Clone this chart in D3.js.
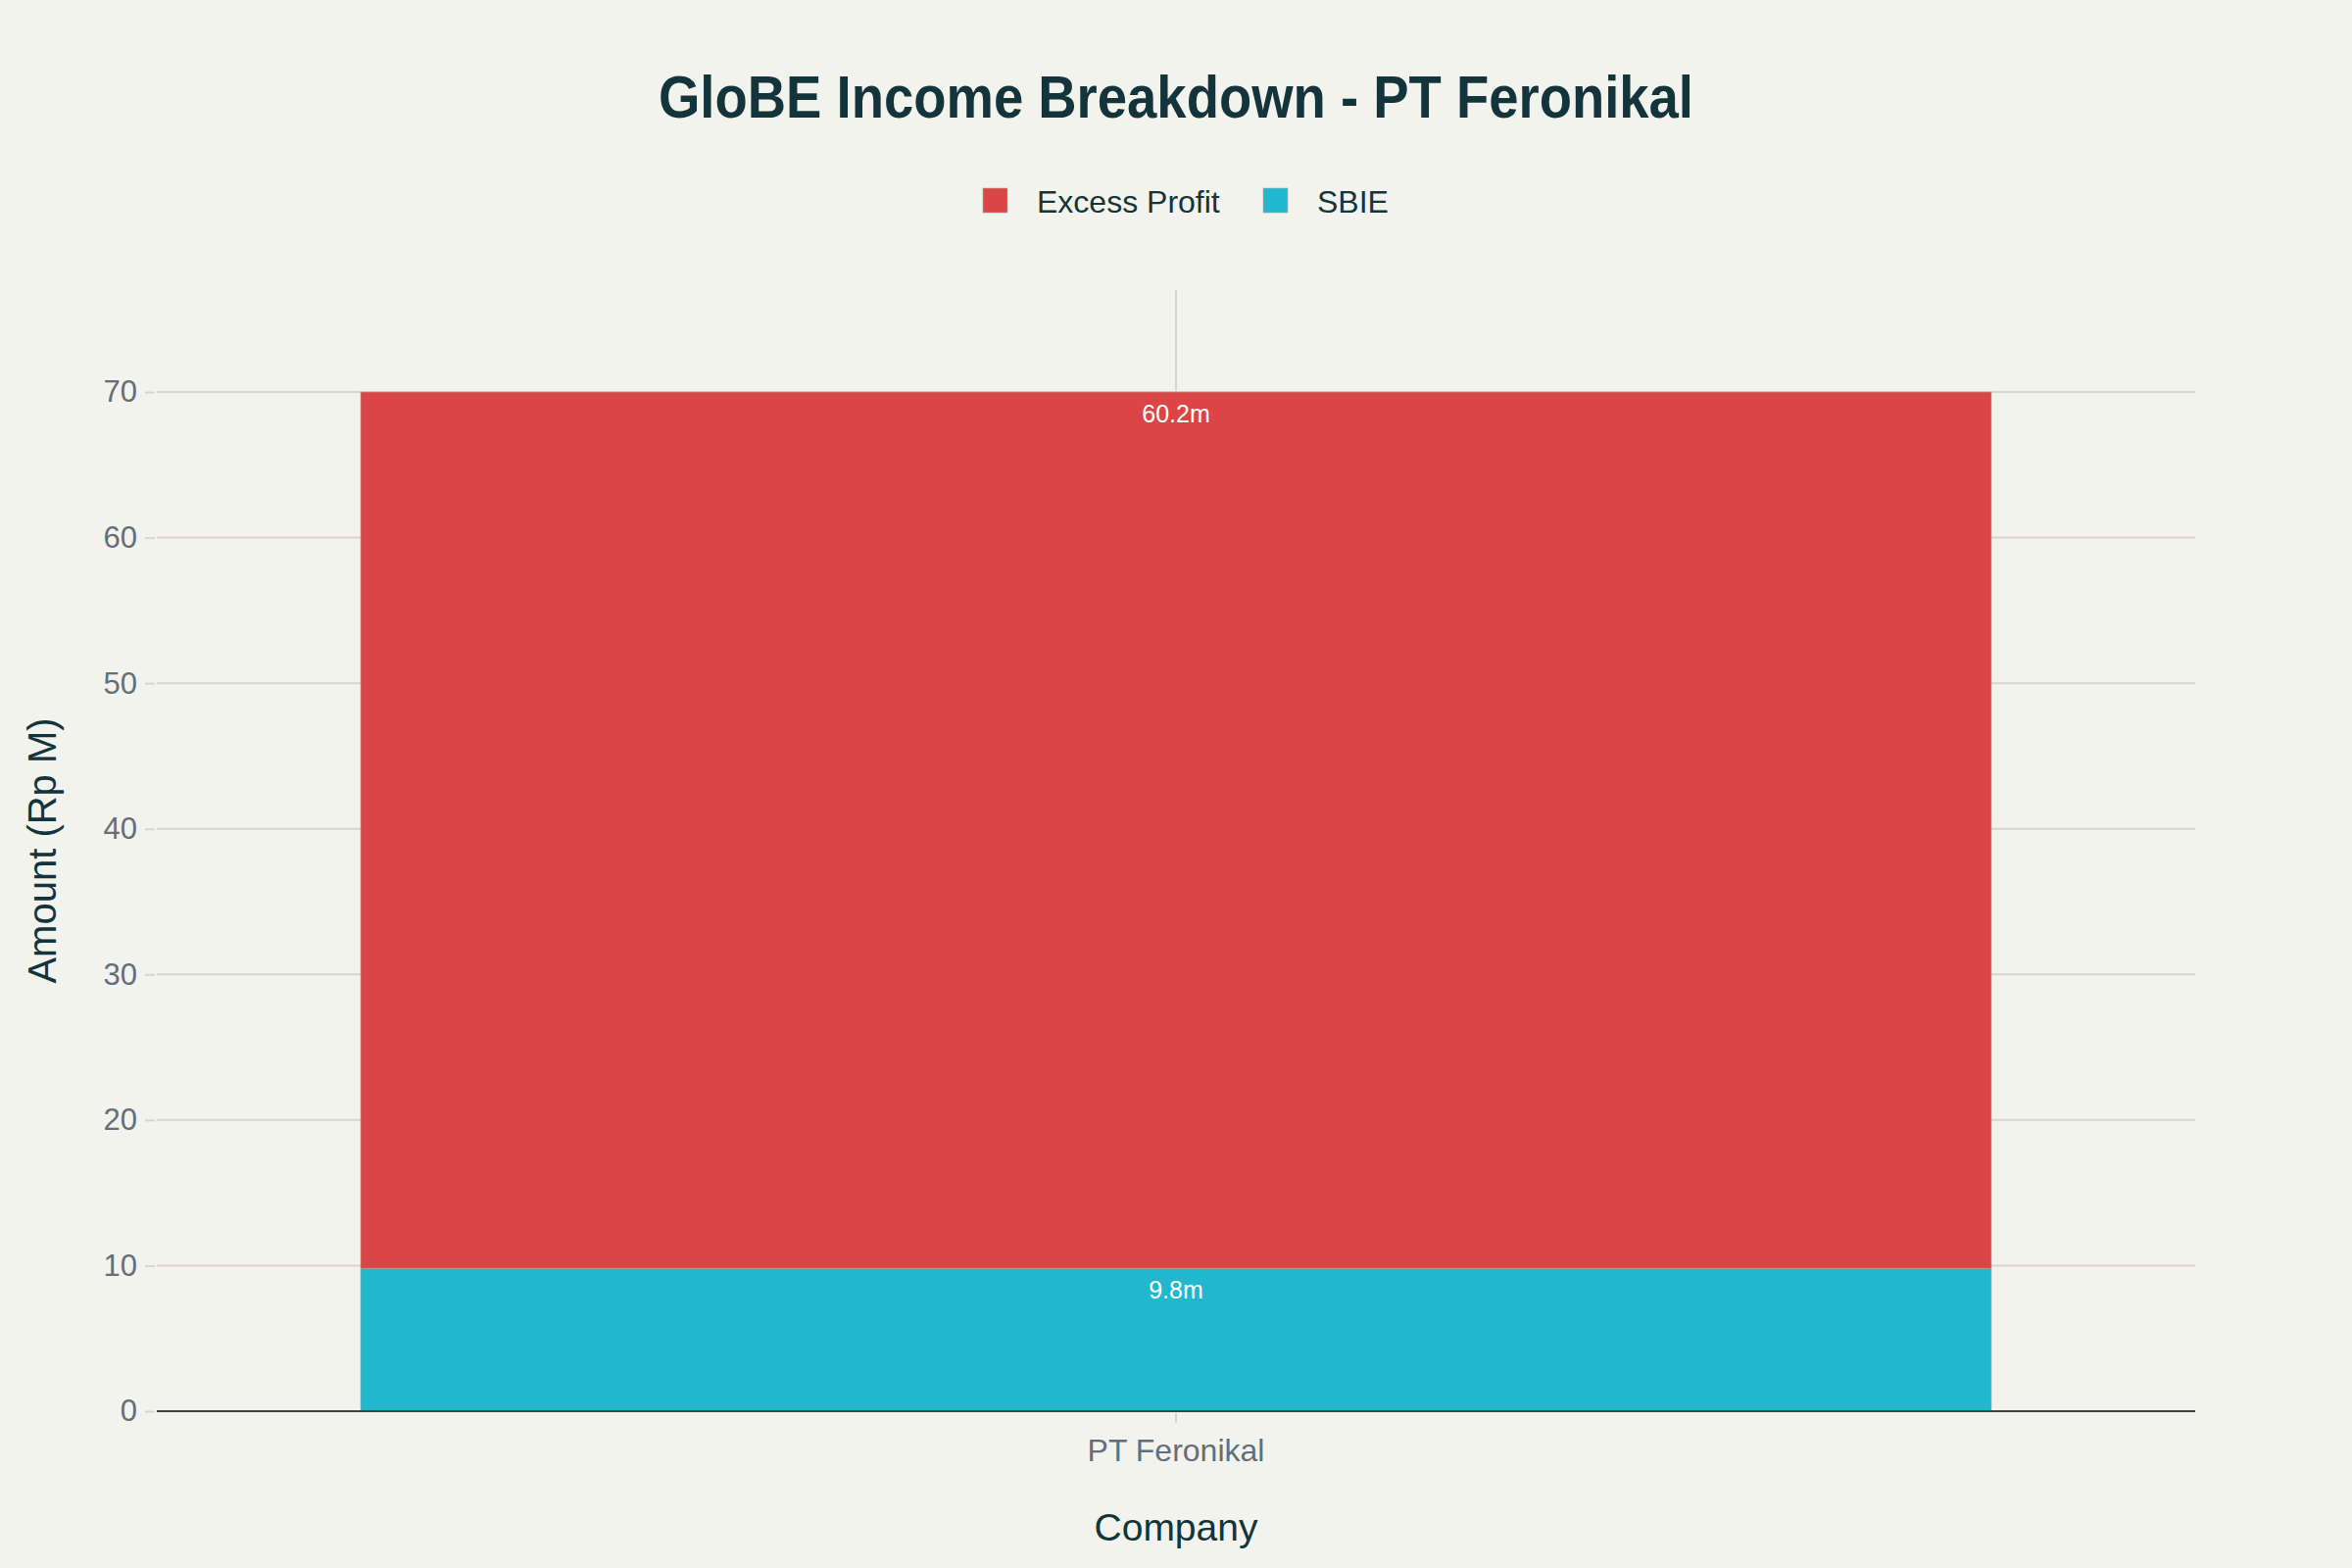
<!DOCTYPE html>
<html>
<head>
<meta charset="utf-8">
<script src="https://cdn.jsdelivr.net/npm/d3@7"></script>
<style>
    html, body { margin: 0; padding: 0; background: #f3f3ee; }
    svg { display: block; }
</style>
</head>
<body>
<div id="chart"></div>
<script>
// ─── Data ───────────────────────────────────────────────
const companies = ['PT Feronikal'];
const seriesNames = ['SBIE', 'Excess Profit'];      // stack order, bottom → top
const sbieValues = [9.8];
const excessValues = [60.2];
const dataLabels = { 'SBIE': ['9.8m'], 'Excess Profit': ['60.2m'] };
const legendOrder = ['Excess Profit', 'SBIE'];
const yTicks = [0, 10, 20, 30, 40, 50, 60, 70];

const colors = { 'Excess Profit': '#db4545', 'SBIE': '#21b8cd' };

// ─── Layout ─────────────────────────────────────────────
const W = 2400, H = 1600;
const plot = { left: 160, right: 2240, top: 296, bottom: 1440 };
const ink = '#13343b';
const grey = '#646e76';
const gridCol = '#d9d4ce';

const svg = d3.select('#chart').append('svg')
    .attr('width', W).attr('height', H)
    .style('font-family', '"Liberation Sans", Arial, sans-serif');

svg.append('rect').attr('width', W).attr('height', H).attr('fill', '#f3f3ee');

const x = d3.scaleBand()
    .domain(companies)
    .range([plot.left, plot.right])
    .paddingInner(0.2)
    .paddingOuter(0.1);

const y = d3.scaleLinear()
    .domain([0, 77])
    .range([plot.bottom, plot.top]);

// stacked rows built from the series arrays
const rows = companies.map((c, i) => ({ company: c, 'SBIE': sbieValues[i], 'Excess Profit': excessValues[i] }));
const stacked = d3.stack().keys(seriesNames)(rows);

// ─── Grid ───────────────────────────────────────────────
svg.append('g').selectAll('line.hgrid')
    .data(yTicks.filter(t => t !== 0))
    .join('line')
    .attr('x1', plot.left).attr('x2', plot.right)
    .attr('y1', d => y(d)).attr('y2', d => y(d))
    .attr('stroke', gridCol).attr('stroke-width', 2);

svg.append('g').selectAll('line.vgrid')
    .data(companies)
    .join('line')
    .attr('x1', d => x(d) + x.bandwidth() / 2).attr('x2', d => x(d) + x.bandwidth() / 2)
    .attr('y1', plot.top).attr('y2', plot.bottom)
    .attr('stroke', gridCol).attr('stroke-width', 2);

// ─── Bars ───────────────────────────────────────────────
const layers = svg.append('g').selectAll('g.layer')
    .data(stacked)
    .join('g')
    .attr('fill', d => colors[d.key]);

layers.selectAll('rect')
    .data(d => d.map(v => ({ key: d.key, v })))
    .join('rect')
    .attr('x', d => x(d.v.data.company))
    .attr('width', x.bandwidth())
    .attr('y', d => y(d.v[1]))
    .attr('height', d => y(d.v[0]) - y(d.v[1]))
    .attr('stroke', 'rgba(180,170,160,0.6)')
    .attr('stroke-width', 1);

// labels inside the top of each segment
layers.selectAll('text')
    .data(d => d.map((v, i) => ({ key: d.key, v, label: dataLabels[d.key][i] })))
    .join('text')
    .attr('x', d => x(d.v.data.company) + x.bandwidth() / 2)
    .attr('y', d => y(d.v[1]) + 31)
    .attr('text-anchor', 'middle')
    .attr('font-size', 25)
    .attr('fill', '#ffffff')
    .text(d => d.label);

// zero line
svg.append('line')
    .attr('x1', plot.left).attr('x2', plot.right)
    .attr('y1', y(0)).attr('y2', y(0))
    .attr('stroke', '#3b4042').attr('stroke-width', 2);

// ─── Axes ───────────────────────────────────────────────
const yAxis = svg.append('g')
    .attr('transform', `translate(${plot.left - 2},0)`)
    .call(d3.axisLeft(y).tickValues(yTicks).tickSize(10).tickPadding(8));
yAxis.select('.domain').remove();
yAxis.selectAll('.tick line').attr('stroke', gridCol).attr('stroke-width', 2);
yAxis.selectAll('.tick text')
    .attr('font-size', 31).attr('fill', grey)
    .attr('font-family', '"Liberation Sans", Arial, sans-serif');

const xAxis = svg.append('g')
    .attr('transform', `translate(0,${plot.bottom + 2})`)
    .call(d3.axisBottom(x).tickSize(10).tickPadding(16));
xAxis.select('.domain').remove();
xAxis.selectAll('.tick line').attr('stroke', gridCol).attr('stroke-width', 2);
xAxis.selectAll('.tick text')
    .attr('font-size', 32).attr('fill', grey)
    .attr('font-family', '"Liberation Sans", Arial, sans-serif');

// axis titles
svg.append('text')
    .attr('x', (plot.left + plot.right) / 2).attr('y', 1572)
    .attr('text-anchor', 'middle')
    .attr('font-size', 39).attr('fill', ink)
    .text('Company');

svg.append('text')
    .attr('transform', 'translate(57,868) rotate(-90)')
    .attr('text-anchor', 'middle')
    .attr('font-size', 40).attr('fill', ink)
    .text('Amount (Rp M)');

// ─── Title ──────────────────────────────────────────────
// the original face is a narrow grotesk; squeeze Liberation Sans to its width
svg.append('text')
    .attr('x', 1200).attr('y', 120)
    .attr('text-anchor', 'middle')
    .attr('font-weight', 'bold')
    .attr('font-size', 61)
    .attr('textLength', 1056)
    .attr('lengthAdjust', 'spacingAndGlyphs')
    .attr('fill', ink)
    .text('GloBE Income Breakdown - PT Feronikal');

// ─── Legend ─────────────────────────────────────────────
const legendX = { 'Excess Profit': 1003, 'SBIE': 1289 };
const legend = svg.append('g').selectAll('g')
    .data(legendOrder)
    .join('g')
    .attr('transform', d => `translate(${legendX[d]},192)`);

legend.append('rect')
    .attr('width', 25).attr('height', 25)
    .attr('fill', d => colors[d])
    .attr('stroke', 'rgba(180,170,160,0.6)').attr('stroke-width', 1);

legend.append('text')
    .attr('x', 55).attr('y', 25)
    .attr('font-size', 32).attr('fill', ink)
    .text(d => d);
</script>
</body>
</html>
